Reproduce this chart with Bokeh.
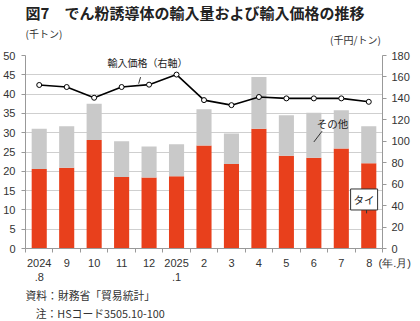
from bokeh.plotting import figure
from bokeh.layouts import column
from bokeh.models import (Range1d, LinearAxis, FixedTicker, Label, ColumnDataSource)
from bokeh.embed import file_html
from bokeh.resources import INLINE

# ---- data ----
months = ["2024\n.8", "9", "10", "11", "12", "2025\n.1", "2", "3", "4", "5", "6", "7", "8"]
thai = [20.6, 20.9, 28.1, 18.5, 18.4, 18.7, 26.7, 21.9, 31.0, 24.0, 23.5, 25.9, 22.1]
total = [31.0, 31.7, 37.5, 27.8, 26.4, 27.0, 36.1, 29.8, 44.4, 34.5, 35.2, 35.8, 31.7]
price = [152.5, 150.6, 140.6, 150.6, 152.8, 162.2, 138.4, 133.7, 141.3, 140.0, 140.0, 140.0, 136.8]

JP = "Noto Sans CJK JP"
NUM = "Liberation Sans"
RED = "#e8401c"
GRAY = "#c9c9c9"
TXT = "#333333"

W = 420
TOP_H, MAIN_H, BOT_H = 48, 238, 35


def text_fig(h):
    f = figure(width=W, height=h, output_backend="svg", toolbar_location=None,
               x_range=Range1d(0, W), y_range=Range1d(h, 0),
               x_axis_type=None, y_axis_type=None,
               min_border=0, min_border_left=0, min_border_right=0,
               min_border_top=0, min_border_bottom=0)
    f.grid.visible = False
    f.outline_line_color = None
    return f


def lab(f, x, y, text, size="11px", align="left", bold=False, color=TXT):
    f.add_layout(Label(x=x, y=y, text=text, text_font=JP, text_font_size=size,
                       text_color=color, text_align=align, text_baseline="middle",
                       text_font_style="bold" if bold else "normal"))


# ---- top: title and unit labels ----
top = text_fig(TOP_H)
lab(top, 0, 12, "図7", size="15px", bold=True, color="#222222")
lab(top, 46, 12, "でん粉誘導体の輸入量および輸入価格の推移", size="15px", bold=True, color="#222222")
lab(top, 0, 33, "(千トン)", size="10px")
lab(top, 418, 39, "(千円/トン)", size="10px", align="right")

# ---- main chart ----
n = len(months)
xs = [i + 0.5 for i in range(n)]
src = ColumnDataSource(dict(x=xs, thai=thai, total=total, price=price))

p = figure(width=W, height=MAIN_H, output_backend="svg", toolbar_location=None,
           x_range=Range1d(0, n), y_range=Range1d(0, 50),
           min_border_left=25, min_border_right=38, min_border_top=7, min_border_bottom=38)
p.outline_line_color = None
p.xgrid.grid_line_color = None
p.ygrid.grid_line_color = "#cfcfcf"
p.ygrid.grid_line_width = 1
p.extra_y_ranges = {"price": Range1d(0, 180)}

p.vbar(x="x", top="thai", bottom=0, width=0.55, source=src, fill_color=RED, line_color=None)
p.vbar(x="x", top="total", bottom="thai", width=0.55, source=src, fill_color=GRAY, line_color=None)

p.line(x="x", y="price", source=src, y_range_name="price", line_color="black", line_width=1.6)
p.scatter(x="x", y="price", source=src, y_range_name="price", size=5,
          fill_color="white", line_color="black", line_width=1)

ya = p.yaxis[0]
ya.ticker = FixedTicker(ticks=list(range(0, 51, 5)))
ya.axis_line_color = "#999999"
ya.major_tick_line_color = "#999999"
ya.major_tick_out = 4
ya.major_tick_in = 0
ya.minor_tick_line_color = None
ya.major_label_standoff = 6
ya.major_label_text_font = NUM
ya.major_label_text_font_size = "11px"
ya.major_label_text_color = TXT

ra = LinearAxis(y_range_name="price", ticker=FixedTicker(ticks=list(range(0, 181, 20))))
ra.axis_line_color = "#999999"
ra.major_tick_line_color = "#999999"
ra.major_tick_out = 4
ra.major_tick_in = 0
ra.minor_tick_line_color = None
ra.major_label_standoff = 5
ra.major_label_text_font = NUM
ra.major_label_text_font_size = "11px"
ra.major_label_text_color = TXT
p.add_layout(ra, "right")

NB = "\u00a0"
labels = list(months)
labels[-1] = NB * 13 + months[-1] + NB * 2 + "(年.月)"

xa = p.xaxis[0]
xa.ticker = FixedTicker(ticks=xs, minor_ticks=list(range(0, n + 1)))
xa.major_label_overrides = {x: m for x, m in zip(xs, labels)}
xa.axis_line_color = "#999999"
xa.major_tick_line_color = None
xa.major_tick_out = 0
xa.minor_tick_line_color = "#999999"
xa.minor_tick_out = 4
xa.minor_tick_in = 0
xa.major_label_standoff = 4
xa.major_label_text_font = NUM
xa.major_label_text_font_size = "11px"
xa.major_label_text_color = TXT

p.add_layout(Label(x=4.44, y=48.2, text="輸入価格（右軸）", text_font=JP, text_font_size="10px",
                   text_color="#222222", text_align="center", text_baseline="middle"))
p.segment(x0=[4.19], y0=[44.4], x1=[4.12], y1=[42.7], line_color="#333333", line_width=1)

p.add_layout(Label(x=11.18, y=32.4, text="その他", text_font=JP, text_font_size="10.5px",
                   text_color="#222222", text_align="center", text_baseline="middle"))
p.segment(x0=[10.80], y0=[30.4], x1=[10.50], y1=[27.6], line_color="#333333", line_width=1)

p.add_layout(Label(x=12.33, y=12.7, text="タイ", text_font=JP, text_font_size="10.5px",
                   text_color="#222222", text_align="center", text_baseline="middle",
                   background_fill_color="white", border_line_color="#333333", border_line_width=1,
                   padding=3))
p.segment(x0=[12.42], y0=[11.1], x1=[12.42], y1=[9.1], line_color="#333333", line_width=1)

# ---- bottom: source notes ----
bot = text_fig(BOT_H)
lab(bot, 0, 8, "資料：財務省「貿易統計」", size="10.8px")
lab(bot, 12, 26, "注：HSコード3505.10-100", size="10.8px")

layout = column(top, p, bot, spacing=0)
open("out.html", "w").write(file_html(layout, INLINE))
